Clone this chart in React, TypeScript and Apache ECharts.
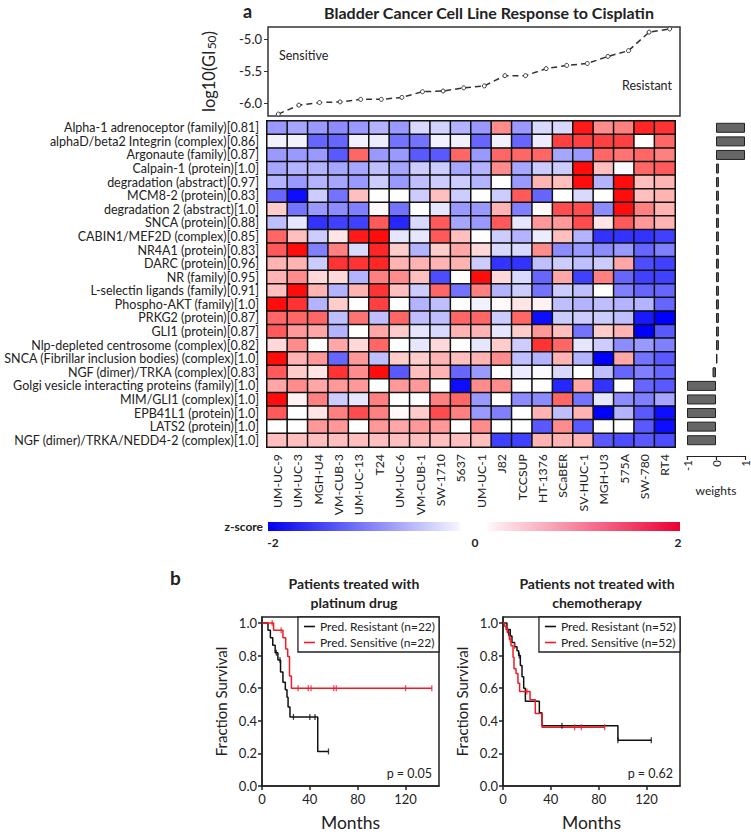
import React, { useEffect, useRef } from 'react';
import * as echarts from 'echarts';

const FONT = 'Lato, "Open Sans", sans-serif';

const cellLines = ['UM-UC-9', 'UM-UC-3', 'MGH-U4', 'VM-CUB-3', 'UM-UC-13', 'T24', 'UM-UC-6', 'VM-CUB-1', 'SW-1710', '5637', 'UM-UC-1', 'J82', 'TCCSUP', 'HT-1376', 'SCaBER', 'SV-HUC-1', 'MGH-U3', '575A', 'SW-780', 'RT4'];

const gi50 = [-6.17, -6.03, -5.99, -5.98, -5.94, -5.94, -5.91, -5.82, -5.81, -5.76, -5.73, -5.57, -5.57, -5.46, -5.41, -5.38, -5.27, -5.18, -4.89, -4.84];

const pathways = [
  'Alpha-1 adrenoceptor (family)[0.81]',
  'alphaD/beta2 Integrin (complex)[0.86]',
  'Argonaute (family)[0.87]',
  'Calpain-1 (protein)[1.0]',
  'degradation (abstract)[0.97]',
  'MCM8-2 (protein)[0.83]',
  'degradation 2 (abstract)[1.0]',
  'SNCA (protein)[0.88]',
  'CABIN1/MEF2D (complex)[0.85]',
  'NR4A1 (protein)[0.83]',
  'DARC (protein)[0.96]',
  'NR (family)[0.95]',
  'L-selectin ligands (family)[0.91]',
  'Phospho-AKT (family)[1.0]',
  'PRKG2 (protein)[0.87]',
  'GLI1 (protein)[0.87]',
  'Nlp-depleted centrosome (complex)[0.82]',
  'SNCA (Fibrillar inclusion bodies) (complex)[1.0]',
  'NGF (dimer)/TRKA (complex)[0.83]',
  'Golgi vesicle interacting proteins (family)[1.0]',
  'MIM/GLI1 (complex)[1.0]',
  'EPB41L1 (protein)[1.0]',
  'LATS2 (protein)[1.0]',
  'NGF (dimer)/TRKA/NEDD4-2 (complex)[1.0]',
];

const weights = [1, 1, 1, 0.1, 0.1, 0.1, 0.1, 0.1, 0.1, 0.1, 0.1, 0.1, 0.1, 0.1, 0.1, 0.1, 0.1, 0.05, -0.12, -1, -1, -1, -1, -1];

const zscores: number[][] = [
  [-0.8, -0.7, -0.8, -0.9, -0.8, -0.6, -0.8, -0.3, -0.35, -0.6, -0.8, 0.9, -0.8, -0.3, -0.3, 1.8, 0.9, 1.0, 1.7, 1.6],
  [-0.1, -0.1, -1.2, -1.2, -0.1, -0.15, -1.1, -1.1, -0.1, -0.1, -1.2, -0.1, -1.2, -0.15, 1.5, 1.5, 1.5, 1.5, 0, 1.2],
  [-0.8, -0.8, -0.8, -1.3, 1.2, -0.8, -0.8, -1.3, -1.3, 1.2, -0.8, 1.2, 1.2, 1.2, -0.7, -0.8, 1.2, 1.1, 1.2, 1.0],
  [-0.7, -0.6, -0.6, -0.7, -0.7, -0.5, -0.7, -0.4, -0.4, -0.7, -0.6, 0.9, -0.7, -0.4, -0.4, 1.9, 0.5, -0.05, 1.2, 1.3],
  [-0.6, -0.8, -0.6, -0.7, -0.8, -0.4, -0.8, -0.5, -0.4, -0.4, -0.6, 0, -0.8, 0.6, 0.5, 1.9, -0.6, 1.9, 0.5, 0.6],
  [-1.2, -1.9, -0.4, -1.1, 0.5, 0, 0, -0.4, 0.5, -0.4, 0, -0.4, 1.3, -1.2, 0, -0.3, 0, 1.9, 0.5, 0.6],
  [0.4, -1.1, -0.8, -0.9, -1.0, 0.05, -1.1, 0, -0.2, -0.8, -0.8, 0.6, -1.0, 0.05, 1.4, 1.4, -0.9, 1.9, 1.0, 0.6],
  [-0.5, -0.2, -1.6, -1.5, -1.5, 1.3, -1.7, -0.3, 1.3, -0.7, -0.8, 1.3, -0.2, 0.8, 0.8, 1.4, 0.2, 1.3, 0.8, 0.6],
  [1.2, 0.5, -0.4, 0.2, 1.8, 1.9, -0.2, -0.2, 1.3, 0.5, 0, -0.4, -0.6, -0.15, 0.5, -0.6, -1.6, -1.6, -1.6, -1.5],
  [1.3, 1.9, -1.0, 1.0, -0.3, 1.7, 0.4, -0.6, 0.4, 0.7, 0.3, -0.3, -0.3, 0.9, -0.9, -0.8, -0.9, -0.8, -1.2, -1.0],
  [0.6, 0.6, -0.4, 1.6, 1.6, 1.7, 0.6, 0.6, 0.6, 0.6, -0.4, -1.6, -1.6, -0.5, -0.4, -0.5, -0.4, 0.7, -1.4, -1.5],
  [0.6, 0.9, 0.3, 0.3, -0.6, 1.0, 0.9, 0.5, -1.4, 0, 1.9, 0.3, -0.3, -1.2, 0.7, -1.5, 1.0, -1.2, -1.5, -1.5],
  [0.5, 1.9, 0.6, -0.6, 0.6, 1.6, 0.5, -0.4, 1.2, -1.1, 1.0, -0.6, -0.4, -1.1, -0.4, -0.5, 0, -1.0, -1.2, -1.2],
  [1.9, 1.6, -0.6, 0.4, 0, 1.5, 0, -0.6, -0.5, 0, -0.1, 0.05, 0.2, 0.1, -0.5, -0.6, -0.5, -0.6, -0.6, -1.2],
  [1.2, 1.2, 1.2, -0.5, 1.1, -0.5, 1.2, -0.5, -0.5, 1.2, 1.2, -0.4, 1.2, -1.9, -0.4, -0.4, -0.4, -0.5, -1.8, -2.0],
  [1.3, 0.8, 0.7, -0.6, 0, 0.7, 0.4, -0.2, -0.3, 0.6, 0.6, -0.2, 0.4, 0.8, 0.5, -1.1, 0.4, 0.6, -2.0, -1.3],
  [0.3, 0.9, 0, 0.7, 0.3, 1.2, 0, -0.2, 0.3, 0, -0.2, 0.4, -0.4, 1.6, 1.2, -0.2, -0.4, -0.9, -0.8, -1.0],
  [1.9, 0.6, 0.8, -1.2, 0.8, -0.5, 0.4, 0.4, 0.6, 0.5, 0.6, 0.9, -0.5, -0.6, 0.6, -0.6, -2.0, 0.7, -1.1, -1.3],
  [1.3, 0.4, 0.2, 1.6, 0.9, 1.9, -1.3, 0.5, 0.6, -1.2, -0.8, 0, -0.15, -0.05, -0.3, 0, -0.5, -1.2, -1.0, -1.2],
  [0.7, 0.9, 0.7, 0.8, 0.8, 0, 0.8, 0.8, 0, -1.9, 0.9, 0.9, 0, 0, -1.7, 0.7, -1.6, 0, -1.2, -1.3],
  [1.9, 0.1, 1.0, -0.4, -0.2, 1.0, 0, 0, 1.0, 1.2, -0.8, 0, -0.9, -0.9, 1.2, -1.1, -0.2, -0.9, -1.0, -0.7],
  [1.3, 0, 0.2, 1.0, 1.4, 1.0, 0.05, 0.4, 1.4, 1.0, -0.8, -1.0, 0, 0.6, -0.5, 0.6, -2.0, -0.6, -1.3, -1.9],
  [0, 0, 0.8, 0.8, 0, 0.8, 0.7, 0.8, 0.8, 0, 0.9, 0, 0, -1.3, 0.9, -1.3, 0, 0, -1.3, -1.9],
  [0.5, 0.5, 0.5, 0.5, 0.5, 0.5, 0.5, 0.5, 0.5, 0.5, 0.5, -1.5, -1.5, 0.6, 0.6, 0.6, -1.3, -1.4, -1.3, -1.4],
];

// Kaplan-Meier: patients treated with platinum drug
const km1ResTime = [0, 5, 7, 9, 11, 13.3, 15.5, 17.5, 19.5, 20.9, 21.8, 23.4, 46.6, 55.6];
const km1ResSurv = [1, 0.955, 0.909, 0.864, 0.818, 0.773, 0.7, 0.636, 0.59, 0.545, 0.485, 0.424, 0.212, 0.212];
const km1ResCensT = [12, 15, 26.3, 40, 44.3, 55.6];
const km1ResCensS = [0.818, 0.773, 0.424, 0.424, 0.424, 0.212];
const km1SenTime = [0, 9.7, 17.5, 19.8, 21.5, 23, 24.6, 142];
const km1SenSurv = [1, 0.955, 0.91, 0.84, 0.795, 0.675, 0.6, 0.6];
const km1SenCensT = [8.5, 16, 30.2, 38.7, 41, 60, 62.1, 120, 142];
const km1SenCensS = [1, 0.955, 0.6, 0.6, 0.6, 0.6, 0.6, 0.6, 0.6];

// Kaplan-Meier: patients not treated with chemotherapy
const km2ResTime = [0, 3.3, 6.1, 7.5, 9.7, 11.7, 13.1, 14.5, 15.9, 17.3, 18.7, 30.4, 32.6, 96.1, 124];
const km2ResSurv = [1, 0.96, 0.92, 0.88, 0.855, 0.83, 0.8, 0.74, 0.67, 0.6, 0.52, 0.45, 0.37, 0.28, 0.28];
const km2ResCensT = [4.7, 13.6, 49.3, 96.1, 124];
const km2ResCensS = [0.94, 0.8, 0.37, 0.28, 0.28];
const km2SenTime = [0, 1.4, 2.5, 3.9, 5.3, 6.7, 8.4, 9.2, 10.9, 12.5, 13.9, 22.6, 27, 32.6, 85];
const km2SenSurv = [1, 0.98, 0.96, 0.94, 0.9, 0.86, 0.79, 0.72, 0.69, 0.63, 0.58, 0.53, 0.445, 0.36, 0.36];
const km2SenCensT = [3.3, 6, 9.7, 20, 59.9, 65.5, 85];
const km2SenCensS = [0.96, 0.9, 0.86, 0.58, 0.36, 0.36, 0.36];

const RED = '#ee1c25';
const BLACK = '#111';
const TXT = '#222';

const zip = (a: number[], b: number[]) => a.map((v, i) => [v, b[i]]);

function kmAxes(gridIndex: number) {
  const x = {
    type: 'value', gridIndex, min: 0, max: 148,
    name: 'Months', nameLocation: 'middle', nameGap: 27,
    nameTextStyle: { fontSize: 17.5, color: TXT, fontFamily: FONT },
    axisLine: { show: true, lineStyle: { color: '#222', width: 1.5 } },
    axisTick: { show: true, length: 4, customValues: [0, 40, 80, 120], lineStyle: { color: '#222', width: 1.5 } },
    axisLabel: { customValues: [0, 40, 80, 120], fontSize: 13, color: TXT, fontFamily: FONT, margin: 6 },
    splitLine: { show: false },
  };
  const y = {
    type: 'value', gridIndex, min: 0, max: 1.037,
    name: 'Fraction Survival', nameLocation: 'middle', nameGap: 34,
    nameTextStyle: { fontSize: 15, color: TXT, fontFamily: FONT },
    axisLine: { show: true, lineStyle: { color: '#222', width: 1.5 } },
    axisTick: { show: true, length: 4, customValues: [0, 0.2, 0.4, 0.6, 0.8, 1.0], lineStyle: { color: '#222', width: 1.5 } },
    axisLabel: { customValues: [0, 0.2, 0.4, 0.6, 0.8, 1.0], formatter: (v: number) => v.toFixed(1), fontSize: 13, color: TXT, fontFamily: FONT, margin: 5 },
    splitLine: { show: false },
  };
  return { x, y };
}

function kmSeries(idx: number, name: string, color: string, t: number[], s: number[], ct: number[], cs: number[]) {
  return [
    {
      type: 'line', name, xAxisIndex: idx, yAxisIndex: idx, step: 'end', data: zip(t, s),
      symbol: 'none', lineStyle: { color, width: 1.5 }, itemStyle: { color }, z: 3,
    },
    {
      type: 'scatter', name: name + ' censored', xAxisIndex: idx, yAxisIndex: idx, data: zip(ct, cs),
      symbol: 'rect', symbolSize: [1.3, 6], itemStyle: { color }, z: 4,
    },
  ];
}

function kmLegend(names: string[], right: number) {
  return {
    data: names, orient: 'vertical', right, top: 617, align: 'left',
    icon: 'rect', itemWidth: 11, itemHeight: 1.6, itemGap: 3, padding: [3, 4, 3, 6],
    borderColor: '#222', borderWidth: 1.3, backgroundColor: '#fff',
    textStyle: { fontSize: 12, lineHeight: 13, color: TXT, fontFamily: FONT }, selectedMode: false,
  };
}

export default function App() {
  const ref = useRef<HTMLDivElement>(null);
  useEffect(() => {
    const chart = echarts.init(ref.current!, null, { renderer: 'svg' });
    const heatData: number[][] = [];
    zscores.forEach((row, r) => row.forEach((v, c) => heatData.push([c, r, v])));
    const km1 = kmAxes(3);
    const km2 = kmAxes(4);

    const option: any = {
      animation: false,
      backgroundColor: '#fff',
      textStyle: { fontFamily: FONT },
      grid: [
        { left: 268, top: 27, width: 412, height: 89, show: true, borderColor: '#333', borderWidth: 1.5, backgroundColor: 'transparent' },
        { left: 267, top: 121, width: 408, height: 326 },
        { left: 687, top: 121, width: 63, height: 326 },
        { left: 262, top: 617, width: 177, height: 170, show: true, borderColor: '#222', borderWidth: 1.5, backgroundColor: 'transparent' },
        { left: 503, top: 617, width: 177, height: 170, show: true, borderColor: '#222', borderWidth: 1.5, backgroundColor: 'transparent' },
      ],
      xAxis: [
        { type: 'category', gridIndex: 0, data: cellLines, boundaryGap: true, show: false },
        {
          type: 'category', gridIndex: 1, data: cellLines, position: 'bottom',
          axisLine: { show: false }, axisTick: { show: false }, splitLine: { show: false },
          axisLabel: { rotate: 90, fontSize: 12.3, color: TXT, fontFamily: FONT, margin: 7, interval: 0 },
        },
        {
          type: 'value', gridIndex: 2, min: -1, max: 1, interval: 1, offset: 9,
          name: 'weights', nameLocation: 'middle', nameGap: 28,
          nameTextStyle: { fontSize: 12, color: TXT, fontFamily: FONT },
          axisLine: { show: true, lineStyle: { color: '#222', width: 1.2 } },
          axisTick: { show: true, length: 4, lineStyle: { color: '#222', width: 1.2 } },
          axisLabel: { rotate: 90, fontSize: 11.5, color: TXT, fontFamily: FONT, margin: 4 },
          splitLine: { show: false },
        },
        km1.x,
        km2.x,
      ],
      yAxis: [
        {
          type: 'value', gridIndex: 0, min: -6.2, max: -4.81,
          name: '{a|log10(GI}{b|50}{a|)}', nameLocation: 'middle', nameGap: 51,
          nameTextStyle: { rich: { a: { fontSize: 16.5, color: TXT, fontFamily: FONT }, b: { fontSize: 12, color: TXT, fontFamily: FONT, verticalAlign: 'bottom', padding: [4, 0, 0, 1] } } },
          axisLine: { show: false },
          axisTick: { show: true, length: 4, customValues: [-6, -5.5, -5], lineStyle: { color: '#333' } },
          axisLabel: { customValues: [-6, -5.5, -5], formatter: (v: number) => v.toFixed(1), fontSize: 13, color: TXT, fontFamily: FONT, margin: 6 },
          splitLine: { show: false },
        },
        {
          type: 'category', gridIndex: 1, data: pathways, inverse: true,
          axisLine: { show: false }, axisTick: { show: false }, splitLine: { show: false },
          axisLabel: { fontSize: 12.5, color: TXT, fontFamily: FONT, margin: 8, interval: 0 },
        },
        { type: 'category', gridIndex: 2, data: pathways, inverse: true, show: false },
        km1.y,
        km2.y,
      ],
      visualMap: {
        type: 'continuous', seriesIndex: 1, min: -2, max: 2, show: false,
        inRange: { color: ['#0000ff', '#ffffff', '#ff0000'] },
      },
      legend: [
        kmLegend(['Pred. Resistant (n=22)', 'Pred. Sensitive (n=22)'], 312),
        kmLegend(['Pred. Resistant (n=52)', 'Pred. Sensitive (n=52)'], 71),
      ],
      series: [
        {
          type: 'line', xAxisIndex: 0, yAxisIndex: 0, data: gi50,
          lineStyle: { color: '#333', width: 1.5, type: [6, 4] },
          symbol: 'circle', symbolSize: 4, itemStyle: { color: '#fff', borderColor: '#333', borderWidth: 1 },
        },
        {
          type: 'heatmap', xAxisIndex: 1, yAxisIndex: 1, data: heatData,
          itemStyle: { borderColor: '#111', borderWidth: 1.5 },
        },
        {
          type: 'bar', xAxisIndex: 2, yAxisIndex: 2, data: weights, barWidth: 10,
          itemStyle: { color: '#666', borderColor: '#222', borderWidth: 1 },
        },
        ...kmSeries(3, 'Pred. Resistant (n=22)', BLACK, km1ResTime, km1ResSurv, km1ResCensT, km1ResCensS),
        ...kmSeries(3, 'Pred. Sensitive (n=22)', RED, km1SenTime, km1SenSurv, km1SenCensT, km1SenCensS),
        ...kmSeries(4, 'Pred. Resistant (n=52)', BLACK, km2ResTime, km2ResSurv, km2ResCensT, km2ResCensS),
        ...kmSeries(4, 'Pred. Sensitive (n=52)', RED, km2SenTime, km2SenSurv, km2SenCensT, km2SenCensS),
      ],
      graphic: [
        { type: 'text', x: 243, y: 11, style: { text: 'a', font: `bold 18px ${FONT}`, fill: TXT, verticalAlign: 'middle' } },
        { type: 'text', x: 489, y: 12, style: { text: 'Bladder Cancer Cell Line Response to Cisplatin', font: `bold 16px ${FONT}`, fill: TXT, align: 'center', verticalAlign: 'middle' } },
        { type: 'text', x: 279, y: 55, style: { text: 'Sensitive', font: `12.5px ${FONT}`, fill: TXT, verticalAlign: 'middle' } },
        { type: 'text', x: 672, y: 85, style: { text: 'Resistant', font: `12.5px ${FONT}`, fill: TXT, align: 'right', verticalAlign: 'middle' } },
        { type: 'text', x: 263, y: 526, style: { text: 'z-score', font: `bold 12px ${FONT}`, fill: TXT, align: 'right', verticalAlign: 'middle' } },
        {
          type: 'rect', shape: { x: 268, y: 522, width: 412, height: 9 },
          style: {
            fill: new echarts.graphic.LinearGradient(0, 0, 1, 0, [
              { offset: 0, color: '#0000ee' },
              { offset: 0.46, color: '#f2f2ff' },
              { offset: 0.47, color: '#ffffff' },
              { offset: 0.53, color: '#ffffff' },
              { offset: 0.54, color: '#fff2f5' },
              { offset: 1, color: '#ec0034' },
            ]),
          },
        },
        { type: 'text', x: 273, y: 542, style: { text: '-2', font: `bold 12px ${FONT}`, fill: TXT, align: 'center', verticalAlign: 'middle' } },
        { type: 'text', x: 475, y: 542, style: { text: '0', font: `bold 12px ${FONT}`, fill: TXT, align: 'center', verticalAlign: 'middle' } },
        { type: 'text', x: 678, y: 542, style: { text: '2', font: `bold 12px ${FONT}`, fill: TXT, align: 'center', verticalAlign: 'middle' } },
        { type: 'text', x: 170, y: 577, style: { text: 'b', font: `bold 19px ${FONT}`, fill: TXT, verticalAlign: 'middle' } },
        { type: 'text', x: 354, y: 583, style: { text: 'Patients treated with', font: `bold 14px ${FONT}`, fill: TXT, align: 'center', verticalAlign: 'middle' } },
        { type: 'text', x: 354, y: 602, style: { text: 'platinum drug', font: `bold 14px ${FONT}`, fill: TXT, align: 'center', verticalAlign: 'middle' } },
        { type: 'text', x: 597, y: 583, style: { text: 'Patients not treated with', font: `bold 14px ${FONT}`, fill: TXT, align: 'center', verticalAlign: 'middle' } },
        { type: 'text', x: 597, y: 602, style: { text: 'chemotherapy', font: `bold 14px ${FONT}`, fill: TXT, align: 'center', verticalAlign: 'middle' } },
        { type: 'text', x: 432, y: 773, style: { text: 'p = 0.05', font: `12.5px ${FONT}`, fill: TXT, align: 'right', verticalAlign: 'middle' } },
        { type: 'text', x: 673, y: 773, style: { text: 'p = 0.62', font: `12.5px ${FONT}`, fill: TXT, align: 'right', verticalAlign: 'middle' } },
      ],
    };
    chart.setOption(option);
    return () => chart.dispose();
  }, []);
  return <div ref={ref} style={{ position: 'absolute', left: 0, top: 0, width: 751, height: 832, background: '#fff' }} />;
}
